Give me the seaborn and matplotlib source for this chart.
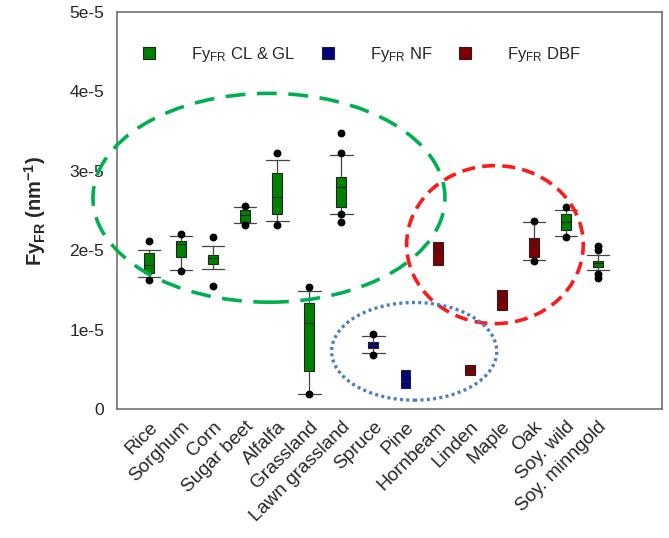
import numpy as np
import matplotlib
matplotlib.use('Agg')
import matplotlib.pyplot as plt
import matplotlib.transforms as mtransforms
import seaborn as sns
from matplotlib.patches import Ellipse
from matplotlib.lines import Line2D

# box summaries (units of 1e-5 nm^-1)
categories = ['Rice', 'Sorghum', 'Corn', 'Sugar beet', 'Alfalfa', 'Grassland',
              'Lawn grassland', 'Spruce', 'Pine', 'Hornbeam', 'Linden', 'Maple',
              'Oak', 'Soy. wild', 'Soy. minngold']
groups = ['CL & GL'] * 7 + ['NF'] * 2 + ['DBF'] * 4 + ['CL & GL'] * 2
q1 = [1.71, 1.91, 1.83, 2.35, 2.46, 0.48, 2.54, 0.77, 0.27, 1.81, 0.43, 1.25, 1.92, 2.25, 1.79]
med = [1.81, 2.08, 1.90, 2.44, 2.67, 1.08, 2.79, 0.80, 0.35, 2.02, 0.50, 1.41, 2.08, 2.35, 1.84]
q3 = [1.96, 2.12, 1.94, 2.50, 2.97, 1.33, 2.92, 0.84, 0.49, 2.10, 0.56, 1.50, 2.15, 2.45, 1.87]
whislo = [1.66, 1.75, 1.76, 2.34, 2.37, 0.19, 2.45, 0.70, 0.27, 1.81, 0.43, 1.25, 1.88, 2.18, 1.75]
whishi = [2.00, 2.18, 2.05, 2.55, 3.14, 1.49, 3.20, 0.92, 0.49, 2.10, 0.56, 1.50, 2.35, 2.51, 1.94]
outliers = [[2.11, 1.62], [2.21, 1.74], [2.17, 1.55], [2.56, 2.32], [3.22, 2.32],
            [1.54, 0.19], [3.47, 3.22, 2.46, 2.36], [0.94, 0.68], [], [], [], [],
            [2.37, 1.87], [2.54, 2.17], [2.05, 2.00, 1.70, 1.65]]
scale = 1e-5

group_names = ['CL & GL', 'NF', 'DBF']
group_colors = {'CL & GL': '#008000', 'NF': '#000080', 'DBF': '#800000'}

sns.set_style('white')
plt.rcParams['font.family'] = ['Liberation Sans', 'DejaVu Sans']
plt.rcParams['mathtext.fontset'] = 'custom'
plt.rcParams['mathtext.rm'] = 'Liberation Sans'
plt.rcParams['mathtext.bf'] = 'Liberation Sans:bold'
plt.rcParams['mathtext.default'] = 'regular'

fig = plt.figure(figsize=(6.69, 5.38), dpi=100)
ax = fig.add_axes([0.1749, 0.2398, 0.8146, 0.7379])

for i, cat in enumerate(categories):
    stat = {'q1': q1[i] * scale, 'med': med[i] * scale, 'q3': q3[i] * scale,
            'whislo': whislo[i] * scale, 'whishi': whishi[i] * scale, 'fliers': []}
    has_whisk = whishi[i] > q3[i] or whislo[i] < q1[i]
    ax.bxp([stat], positions=[i], widths=0.31, capwidths=0.7,
           showcaps=has_whisk, showfliers=False, patch_artist=True,
           boxprops=dict(facecolor=group_colors[groups[i]], edgecolor='#222222', linewidth=0.8),
           medianprops=dict(color='#222222', linewidth=0.8),
           whiskerprops=dict(color='#444444', linewidth=0.9),
           capprops=dict(color='#444444', linewidth=0.9))

# outlier points
ox = [i for i, vals in enumerate(outliers) for _ in vals]
oy = [v * scale for vals in outliers for v in vals]
sns.scatterplot(x=ox, y=oy, color='black', s=32, linewidth=0, ax=ax, zorder=5)

# highlight ellipses
ax.add_patch(Ellipse((3.74, 2.66e-5), 10.98, 2.63e-5, fill=False, edgecolor='#00B050',
                     linewidth=2.6, linestyle=(0, (5.5, 3.2)), zorder=6, clip_on=False))
ax.add_patch(Ellipse((10.79, 2.07e-5), 5.51, 1.99e-5, fill=False, edgecolor='#FF1A1A',
                     linewidth=2.6, linestyle=(0, (3.6, 2.0)), zorder=6))
ax.add_patch(Ellipse((8.27, 0.726e-5), 5.15, 1.23e-5, fill=False, edgecolor='#4A7CC7',
                     linewidth=2.4, linestyle=(0, (0.9, 1.0)), zorder=6))

ax.set_xlim(-1, 16)
ax.set_ylim(0, 5e-5)
ax.set_xticks(range(-1, 17))
ax.set_xticklabels([''] + categories + ['', ''], rotation=45, ha='right',
                   rotation_mode='anchor', fontsize=13.8)
shift = mtransforms.ScaledTranslation(0.01, 0.09, fig.dpi_scale_trans)
for lab in ax.get_xticklabels():
    lab.set_transform(lab.get_transform() + shift)
yt = [0, 1e-5, 2e-5, 3e-5, 4e-5, 5e-5]
ax.set_yticks(yt)
ax.set_yticklabels(['0', '1e-5', '2e-5', '3e-5', '4e-5', '5e-5'], fontsize=12.5)
ax.tick_params(axis='both', direction='out', length=3.8, width=1, color='#555555', pad=3)
ax.tick_params(axis='y', pad=5.5)
for sp in ax.spines.values():
    sp.set_visible(True)
    sp.set_color('#666666')
    sp.set_linewidth(1.1)

ax.set_ylabel(r'Fy$_\mathbf{FR}$ (nm$^\mathbf{-1}$)', fontsize=14.5, fontweight='bold')
ax.yaxis.set_label_coords(-0.126, 0.5)

handles = [Line2D([], [], marker='s', linestyle='none', markersize=8.5,
                  markerfacecolor=group_colors[g], markeredgecolor='#222222', markeredgewidth=0.8)
           for g in group_names]
labels = [r'Fy$_{FR}$ ' + g for g in group_names]
ax.legend(handles, labels, ncol=3, frameon=False, fontsize=12,
          handlelength=2.0, handletextpad=1.5, columnspacing=0.95,
          borderpad=0, borderaxespad=0, loc='center left',
          bbox_to_anchor=(0.029, 0.894))

fig.savefig('out.png', dpi=100)
